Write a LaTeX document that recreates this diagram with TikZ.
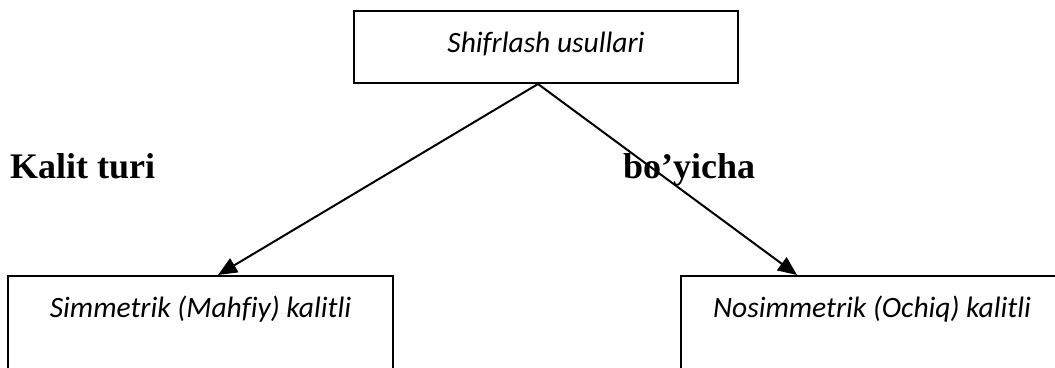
\documentclass[tikz,border=0pt]{standalone}
\usepackage{fontspec}
\setmainfont{Liberation Serif}
\newfontfamily\boxfont[Ligatures=NoCommon]{Carlito}
\usetikzlibrary{arrows.meta}
\begin{document}
\begin{tikzpicture}[x=1pt,y=1pt,
  box/.style={draw, line width=2pt, inner sep=0pt},
  boxtext/.style={anchor=base, inner sep=0pt, font=\boxfont\itshape\fontsize{29.5}{35}\selectfont},
  sidelabel/.style={anchor=base west, inner sep=0pt, font=\bfseries\fontsize{36}{43}\selectfont},
  link/.style={line width=2pt, -{Triangle[length=19pt,width=16pt]}}]
\useasboundingbox (0,0) rectangle (1055,-367);
\clip (0,0) rectangle (1055,-367);

% boxes
\node[box, minimum width=384pt, minimum height=72pt] (root) at (546,-47) {};
\node[box, minimum width=385pt, minimum height=124pt] (sym) at (200.5,-338) {};
\node[box, minimum width=382pt, minimum height=124pt] (asym) at (872,-338) {};

% box captions
\node[boxtext] (roottext) at (546,-52) {Shifrlash usullari};
\node[boxtext] (symtext) at (200.5,-317) {Simmetrik (Mahfiy) kalitli};
\node[boxtext] (asymtext) at (872,-317) {Nosimmetrik (Ochiq) kalitli};

% side labels
\node[sidelabel] (lbl1) at (10,-178) {Kalit turi};
\node[sidelabel] (lbl2) at (623,-178) {bo’yicha};

% connectors
\draw[link] ([xshift=-8pt]root.south) -- ([xshift=17.5pt]sym.north);
\draw[link] ([xshift=-8pt]root.south) -- ([xshift=-75pt]asym.north);
\end{tikzpicture}
\end{document}
